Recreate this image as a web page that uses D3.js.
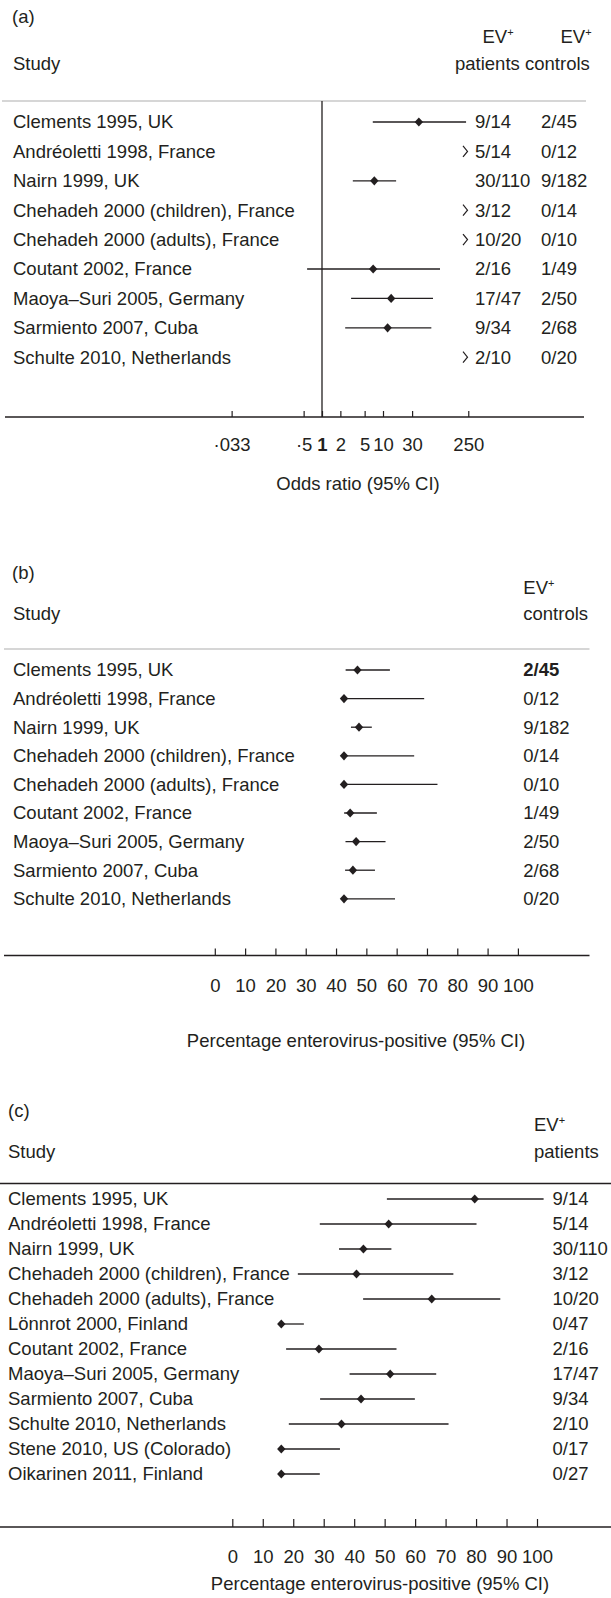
<!DOCTYPE html>
<html><head><meta charset="utf-8">
<script src="https://cdn.jsdelivr.net/npm/d3@7"></script>
<style>
html,body{margin:0;padding:0;background:#fff;}
svg{display:block;}
text{font-family:"Liberation Sans",Arial,Helvetica,sans-serif;font-size:18.5px;fill:#231f20;}
</style></head><body>
<svg id="chart" width="611" height="1598"></svg>
<script>
// ---------- DATA ----------
const studiesAB = ["Clements 1995, UK", "Andréoletti 1998, France", "Nairn 1999, UK",
  "Chehadeh 2000 (children), France", "Chehadeh 2000 (adults), France", "Coutant 2002, France",
  "Maoya–Suri 2005, Germany", "Sarmiento 2007, Cuba", "Schulte 2010, Netherlands"];
// (a) odds ratios (null = not estimable, shown with a chevron)
const orA     = [38.7, null, 7.2, null, null, 6.9, 13.6, 11.9, null];
const orLowA  = [6.8,  null, 3.2, null, null, 0.57, 3.0, 2.4, null];
const orHighA = [230,  null, 16.4, null, null, 86, 66, 62, null];
const patientsA = ["9/14", "5/14", "30/110", "3/12", "10/20", "2/16", "17/47", "9/34", "2/10"];
const controlsA = ["2/45", "0/12", "9/182", "0/14", "0/10", "1/49", "2/50", "2/68", "0/20"];
const ticksA = [0.033, 0.5, 1, 2, 5, 10, 30, 250];
const tickLabelsA = ["·033", "·5", "1", "2", "5", "10", "30", "250"];

// (b) percentage enterovirus-positive, controls
const pctB  = [4.44, 0, 4.95, 0, 0, 2.04, 4.0, 2.94, 0];
const lowB  = [0.54, 0, 2.29, 0, 0, 0.05, 0.49, 0.36, 0];
const highB = [15.15, 26.46, 9.18, 23.16, 30.85, 10.85, 13.71, 10.22, 16.84];

// (c) percentage enterovirus-positive, patients
const studiesC = ["Clements 1995, UK", "Andréoletti 1998, France", "Nairn 1999, UK",
  "Chehadeh 2000 (children), France", "Chehadeh 2000 (adults), France", "Lönnrot 2000, Finland",
  "Coutant 2002, France", "Maoya–Suri 2005, Germany", "Sarmiento 2007, Cuba",
  "Schulte 2010, Netherlands", "Stene 2010, US (Colorado)", "Oikarinen 2011, Finland"];
const pctC  = [64.3, 35.7, 27.3, 25.0, 50.0, 0, 12.5, 36.2, 26.5, 20.0, 0, 0];
const lowC  = [35.1, 12.8, 19.2, 5.5, 27.2, 0, 1.6, 22.7, 12.9, 2.5, 0, 0];
const highC = [87.2, 64.9, 36.6, 57.2, 72.8, 7.5, 38.3, 51.5, 44.4, 55.6, 19.5, 12.8];
const patientsC = ["9/14", "5/14", "30/110", "3/12", "10/20", "0/47", "2/16", "17/47", "9/34", "2/10", "0/17", "0/27"];
const pctTicks = [0, 10, 20, 30, 40, 50, 60, 70, 80, 90, 100];

// ---------- DRAWING ----------
const svg = d3.select("#chart");
const ink = "#231f20";
const diamond = (g, x, y) => g.append("path")
  .attr("d", `M${x},${y-4.6}L${x+4.2},${y}L${x},${y+4.6}L${x-4.2},${y}Z`).attr("fill", ink);
const hline = (x1, x2, y, color, w) => svg.append("line").attr("x1", x1).attr("x2", x2)
  .attr("y1", y).attr("y2", y).attr("stroke", color).attr("stroke-width", w);
const evPlus = (x, y) => {
  const t = svg.append("text").attr("x", x).attr("y", y).text("EV");
  t.append("tspan").attr("font-size", "11px").style("font-size", "11px").attr("dy", -7).text("+");
};
const txt = (x, y, s, anchor) => svg.append("text").attr("x", x).attr("y", y)
  .attr("text-anchor", anchor || "start").text(s);

// ===== Panel (a) =====
{
  const row = d3.scaleLinear().domain([0, 8]).range([122, 357.2]);
  const x = d3.scaleLog().domain([1, 100]).range([322, 444]);
  txt(12, 23, "(a)");
  evPlus(482.5, 43); evPlus(560.5, 43);
  txt(13, 69.5, "Study"); txt(455, 69.5, "patients"); txt(525, 69.5, "controls");
  hline(2, 586, 101, "#c9c9c9", 1.6);
  svg.append("line").attr("x1", x(1)).attr("x2", x(1)).attr("y1", 101).attr("y2", 417)
    .attr("stroke", ink).attr("stroke-width", 1.3);
  const g = svg.append("g");
  studiesAB.forEach((s, i) => {
    const y = row(i);
    txt(13, y, s).attr("dy", "0.35em");
    txt(475, y, patientsA[i]).attr("dy", "0.35em");
    txt(541, y, controlsA[i]).attr("dy", "0.35em");
    if (orA[i] != null) {
      g.append("line").attr("x1", x(orLowA[i])).attr("x2", x(orHighA[i])).attr("y1", y).attr("y2", y)
        .attr("stroke", ink).attr("stroke-width", 1.3);
      diamond(g, x(orA[i]), y);
    } else {
      g.append("path").attr("d", `M463,${y-5.5}L467.5,${y}L463,${y+5.5}`)
        .attr("fill", "none").attr("stroke", ink).attr("stroke-width", 1.2);
    }
  });
  hline(5, 584, 417, ink, 1.3);
  const ax = svg.append("g").attr("transform", "translate(0,417)").style("color", ink)
    .call(d3.axisBottom(x).tickValues(ticksA).tickFormat((d, i) => tickLabelsA[i])
      .tickSizeInner(-6).tickSizeOuter(0).tickPadding(21));
  ax.select(".domain").remove();
  ax.selectAll(".tick line").attr("stroke-width", 1.2);
  ax.selectAll(".tick text").filter(d => d === 1).style("font-weight", "bold");
  txt(358, 489.5, "Odds ratio (95% CI)", "middle");
}

// ===== Panel (b) =====
{
  const row = d3.scaleLinear().domain([0, 8]).range([670, 898.8]);
  const xAxis = d3.scaleLinear().domain([0, 100]).range([214.8, 517.9]);
  const xData = d3.scaleLinear().domain([0, 100]).range([344, 647]);
  txt(12, 579, "(b)");
  evPlus(523.3, 594);
  txt(13, 620, "Study"); txt(523.3, 620, "controls");
  hline(4, 589.5, 649, "#c9c9c9", 1.6);
  const g = svg.append("g");
  studiesAB.forEach((s, i) => {
    const y = row(i);
    txt(13, y, s).attr("dy", "0.35em");
    const c = txt(523.3, y, controlsA[i]).attr("dy", "0.35em");
    if (i === 0) c.style("font-weight", "bold");
    g.append("line").attr("x1", xData(lowB[i])).attr("x2", xData(highB[i])).attr("y1", y).attr("y2", y)
      .attr("stroke", ink).attr("stroke-width", 1.3);
    diamond(g, xData(pctB[i]), y);
  });
  hline(4, 589.5, 955.5, ink, 1.3);
  const ax = svg.append("g").attr("transform", "translate(0,955.5)").style("color", ink)
    .call(d3.axisBottom(xAxis).tickValues(pctTicks).tickSizeInner(-7).tickSizeOuter(0).tickPadding(23));
  ax.select(".domain").remove();
  ax.selectAll(".tick line").attr("stroke-width", 1.2);
  txt(356, 1046.5, "Percentage enterovirus-positive (95% CI)", "middle");
}

// ===== Panel (c) =====
{
  const row = d3.scaleLinear().domain([0, 11]).range([1199, 1474]);
  const xAxis = d3.scaleLinear().domain([0, 100]).range([232.3, 537]);
  const xData = d3.scaleLinear().domain([0, 100]).range([281.3, 582.1]);
  txt(8, 1117, "(c)");
  evPlus(534, 1131);
  txt(8, 1158, "Study"); txt(534, 1158, "patients");
  hline(0, 611, 1183.5, ink, 1.3);
  const g = svg.append("g");
  studiesC.forEach((s, i) => {
    const y = row(i);
    txt(8, y, s).attr("dy", "0.35em");
    txt(552.5, y, patientsC[i]).attr("dy", "0.35em");
    g.append("line").attr("x1", xData(lowC[i])).attr("x2", xData(highC[i])).attr("y1", y).attr("y2", y)
      .attr("stroke", ink).attr("stroke-width", 1.3);
    diamond(g, xData(pctC[i]), y);
  });
  hline(0, 611, 1527, ink, 1.3);
  const ax = svg.append("g").attr("transform", "translate(0,1527)").style("color", ink)
    .call(d3.axisBottom(xAxis).tickValues(pctTicks).tickSizeInner(-8).tickSizeOuter(0).tickPadding(23));
  ax.select(".domain").remove();
  ax.selectAll(".tick line").attr("stroke-width", 1.2);
  txt(380, 1590, "Percentage enterovirus-positive (95% CI)", "middle");
}
</script>
</body></html>
